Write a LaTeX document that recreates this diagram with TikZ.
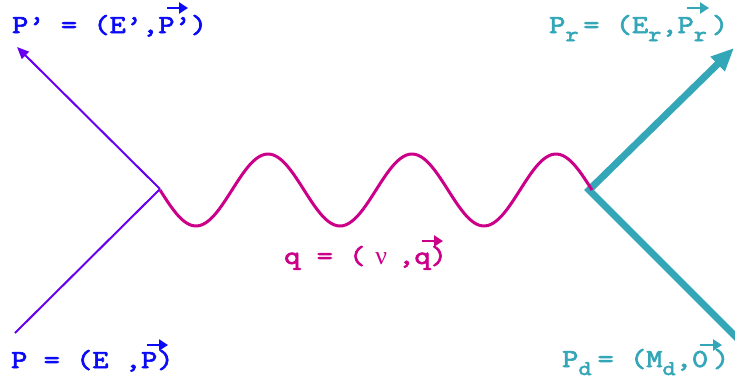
\documentclass[tikz,border=0pt]{standalone}
\usepackage{fontspec}
\usetikzlibrary{arrows.meta}
\newfontfamily\labfont{lmmono10-regular.otf}[FakeBold=2.5, FakeStretch=1.19]
\newfontfamily\greekfont{Liberation Serif}
\definecolor{lblue}{RGB}{10,10,245}
\definecolor{lpurple}{RGB}{102,0,238}
\definecolor{lmag}{RGB}{204,0,136}
\definecolor{lteal}{RGB}{51,166,184}
\tikzset{
  lab/.style={anchor=base west, inner sep=0pt, font=\labfont\fontsize{26}{26}\selectfont},
  vecarrow/.style={-{Triangle[length=9pt,width=11pt]}, line width=2.5pt},
}
\newcommand\sbs[1]{\raisebox{-8pt}{\fontsize{21}{21}\selectfont #1}}
\begin{document}
\begin{tikzpicture}[x=1pt,y=-1pt]
\useasboundingbox (0,0) rectangle (735,381);
% vertices
\coordinate (L) at (160,189);
\coordinate (R) at (589,190);
\coordinate (Pin) at (15,333);
\coordinate (Pout) at (17,47);
\coordinate (Rup) at (734,48);
\coordinate (Rdown) at (745,346);
% lines
\draw[lpurple, line width=2pt] (Pin) -- (L);
\draw[lpurple, line width=2pt, -{Triangle[length=12pt,width=10pt]}] (L) -- (Pout);
\draw[lteal, line width=7pt, line join=miter, -{Triangle[length=23pt,width=19pt]}] (Rdown) -- (R) -- (Rup);
\draw[lmag, line width=3pt] plot[domain=0:432, samples=150, smooth] ({160+\x},{190+36*sin(2.5*\x)});
% labels
\node[lab, lblue] (tl) at (12,33) {P’ = (E’,P’)};
\node[lab, lblue] (bl) at (11,368) {P = (E ,P)};
\node[lab, lmag] (q) at (284,264) {q = (\hspace{10pt}{\greekfont ν}\hspace{11pt},q)};
\node[lab, lteal] (tr) at (549,33) {P\sbs{r}\hspace{4.7pt}= (E\sbs{r},P\sbs{r}\hspace{5pt})};
\node[lab, lteal] (br) at (562,367) {P\sbs{d}\hspace{6pt}= (M\sbs{d},0\hspace{5pt})};
% vector arrows
\coordinate (v1a) at (167,8);   \coordinate (v1b) at (188,8);
\coordinate (v2a) at (687,8);   \coordinate (v2b) at (709,8);
\coordinate (v3a) at (147,345); \coordinate (v3b) at (168,345);
\coordinate (v4a) at (700,345); \coordinate (v4b) at (722,345);
\coordinate (v5a) at (422,241); \coordinate (v5b) at (443,241);
\draw[vecarrow, lblue] (v1a) -- (v1b);
\draw[vecarrow, lteal] (v2a) -- (v2b);
\draw[vecarrow, lblue] (v3a) -- (v3b);
\draw[vecarrow, lteal] (v4a) -- (v4b);
\draw[vecarrow, lmag] (v5a) -- (v5b);
\end{tikzpicture}
\end{document}
